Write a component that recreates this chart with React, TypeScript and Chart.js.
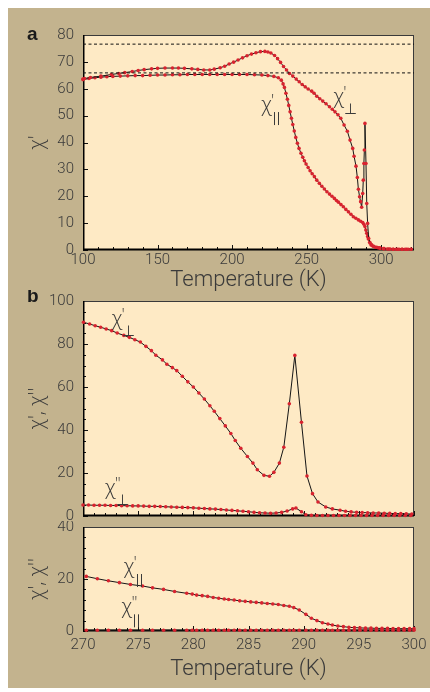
import React, { useEffect, useRef } from 'react';
import { Chart, registerables } from 'chart.js';

Chart.register(...registerables);

const FONT = "Roboto, 'DejaVu Sans', sans-serif";
const CHI_FONT = "'Open Sans', 'DejaVu Sans', sans-serif";
const TEXT = '#3a3a3a';
const LINE = '#151515';
const DOT = '#d8232f';
const CREAM = '#feeac5';
const TAN = '#c3b38e';

// ---------- Panel a : chi' versus temperature (100-322 K) ----------
const aXMin = 100;
const aXMax = 322;
const aXTicks = [100, 150, 200, 250, 300];
const aYTicks = [0, 10, 20, 30, 40, 50, 60, 70, 80];
const aRefLevels = [76.6, 65.9];

const aPerpT = [100, 101, 105, 112, 119, 124, 128, 133, 137, 141,
  146, 150, 155, 160, 164, 168, 173, 177, 181, 185,
  188, 192, 195, 198, 201, 204, 207, 210, 213, 216,
  219, 222, 224, 226, 228.5, 230.5, 232.5, 234.5, 236.5, 238.5,
  240.7, 243, 245, 247, 249, 251, 253.4, 255, 256.8, 258.8,
  260.8, 263, 265.3, 267.2, 269, 271, 272.9, 275.1, 277.3, 279.1,
  280.9, 281.8, 283.1, 284, 284.7, 285.5, 286.2, 286.9, 287.6, 288,
  288.4, 288.7, 289.1, 289.8, 290.3, 290.9, 291.6, 292.5, 293.6, 295,
  297, 299, 301.5, 304, 306, 308, 310, 312, 314, 316,
  318, 320];
const aPerpV = [63.6, 63.8, 64.2, 64.7, 65.3, 65.7, 66.0, 66.4, 66.8, 67.1,
  67.4, 67.6, 67.7, 67.7, 67.7, 67.6, 67.4, 67.2, 67.0, 67.0,
  67.3, 67.8, 68.4, 69.2, 69.9, 70.7, 71.5, 72.3, 72.9, 73.4,
  73.8, 73.9, 73.7, 73.3, 72.4, 71.2, 69.8, 68.3, 67.0, 65.7,
  64.7, 63.6, 62.6, 61.6, 60.7, 59.9, 59.1, 58.3, 57.2, 56.3,
  55.4, 54.4, 53.3, 52.4, 51.4, 50.3, 49.0, 46.5, 44.2, 40.9,
  37.8, 34.9, 31.2, 27.0, 22.6, 19.8, 18.0, 15.9, 21.0, 26.0,
  32.2, 37.2, 47.1, 32.2, 17.3, 9.9, 4.3, 2.6, 1.9, 1.4,
  1.0, 0.8, 0.5, 0.4, 0.4, 0.3, 0.3, 0.3, 0.3, 0.3,
  0.3, 0.3];

const aParT = [100, 104, 108, 112, 116, 120, 125, 130, 135, 140,
  145, 150, 155, 160, 165, 170, 175, 180, 185, 190,
  195, 200, 205, 210, 215, 220, 224, 228, 231, 233,
  234.2, 235.1, 236.1, 237.1, 238, 238.9, 239.8, 240.7, 241.7, 242.7,
  243.8, 244.9, 246.2, 247.4, 248.5, 249.6, 251, 252.3, 253.7, 255.2,
  256.8, 258.5, 260.2, 261.9, 263.6, 265.3, 267, 268.6, 270, 271.3,
  273, 274.6, 276.3, 278, 279.7, 281.3, 283, 284.7, 286.2, 287.6,
  288.4, 289.1, 289.7, 290.3, 290.9, 291.4, 292.3, 293.2, 294.5, 296,
  298, 299.4, 302, 305, 308, 311, 314, 317, 320];
const aParV = [63.4, 63.8, 64.1, 64.3, 64.5, 64.6, 64.7, 64.8, 64.9, 64.9,
  65.0, 65.1, 65.1, 65.2, 65.2, 65.3, 65.3, 65.3, 65.3, 65.3,
  65.3, 65.3, 65.3, 65.3, 65.2, 65.1, 64.9, 64.6, 64.1, 63.2,
  61.8, 60.5, 58.3, 56.1, 53.8, 51.4, 49.0, 46.7, 44.3, 41.9,
  39.7, 37.8, 36.0, 34.5, 33.2, 32.0, 30.7, 29.5, 28.4, 27.3,
  26.0, 24.8, 23.7, 22.7, 21.7, 20.8, 20.0, 19.2, 18.4, 17.8,
  16.9, 16.1, 15.1, 14.2, 13.3, 12.4, 11.8, 11.2, 10.7, 10.2,
  9.6, 8.7, 7.4, 6.2, 5.0, 4.1, 2.9, 1.9, 1.4, 1.0,
  0.8, 0.6, 0.5, 0.4, 0.3, 0.3, 0.3, 0.3, 0.3];

// ---------- Panel b : 270-300 K ----------
const bXMin = 270;
const bXMax = 300;
const bXTicks = [270, 275, 280, 285, 290, 295, 300];
const bTopYTicks = [0, 20, 40, 60, 80, 100];
const bBotYTicks = [0, 20, 40];

const bPerpT = [270.05, 270.6, 271.1, 271.6, 272.1, 272.6, 273.1, 273.7, 274.2, 274.7,
  275.2, 275.7, 276.2, 276.6, 277.2, 277.6, 278.1, 278.5, 279.0, 279.5,
  280.0, 280.5, 281.0, 281.5, 281.9, 282.4, 282.9, 283.4, 283.8, 284.3,
  284.9, 285.4, 285.8, 286.4, 286.9, 287.3, 287.8, 288.2, 288.7, 289.2,
  289.8, 290.3, 290.8, 291.3, 292.0, 292.6, 293.3, 293.8, 294.3, 294.8,
  295.3, 295.8, 296.3, 296.8, 297.3, 297.8, 298.3, 298.8, 299.3, 299.8];
const bPerpV = [90.1, 89.3, 88.5, 87.8, 87.0, 86.2, 85.1, 84.0, 83.1, 82.0,
  80.9, 78.9, 76.9, 74.8, 72.6, 70.6, 69.0, 67.6, 65.0, 62.4,
  60.0, 57.2, 54.4, 51.3, 48.7, 45.3, 41.9, 38.4, 35.1, 31.5,
  27.7, 24.6, 21.5, 18.9, 18.5, 20.3, 24.6, 32.0, 52.2, 74.7,
  43.6, 18.6, 10.4, 6.5, 4.2, 3.3, 2.7, 2.2, 1.9, 1.7,
  1.6, 1.5, 1.4, 1.4, 1.3, 1.2, 1.1, 1.1, 1.0, 0.9];

const bPerp2T = [270, 270.5, 271, 271.5, 272, 272.5, 273, 273.5, 274, 274.5,
  275, 275.5, 276, 276.5, 277, 277.5, 278, 278.5, 279, 279.5,
  280, 280.5, 281, 281.5, 282, 282.5, 283, 283.5, 284, 284.5,
  285, 285.5, 286, 286.5, 287, 287.5, 288, 288.5, 289, 289.3,
  289.8, 290.2, 290.7, 291.2, 291.7, 292.2, 292.7, 293.2, 293.7, 294.2,
  294.7, 295.2, 295.7, 296.2, 296.7, 297.2, 297.7, 298.2, 298.7, 299.2,
  299.7];
const bPerp2V = [5.1, 5.1, 5.0, 5.0, 5.0, 4.9, 4.9, 4.8, 4.8, 4.7,
  4.7, 4.6, 4.5, 4.5, 4.4, 4.3, 4.2, 4.1, 4.0, 3.9,
  3.8, 3.6, 3.5, 3.3, 3.2, 3.0, 2.8, 2.6, 2.4, 2.2,
  2.0, 1.7, 1.5, 1.4, 1.3, 1.4, 1.7, 2.3, 3.3, 3.7,
  2.0, 0.6, 0.3, 0.2, 0.2, 0.2, 0.2, 0.2, 0.2, 0.2,
  0.2, 0.2, 0.2, 0.2, 0.2, 0.2, 0.2, 0.2, 0.2, 0.2,
  0.2];

const bParT = [270.3, 271.3, 272.3, 273.3, 274.3, 275.4, 276.3, 277.3, 278.3, 279.4,
  279.9, 280.3, 280.8, 281.3, 281.8, 282.3, 282.8, 283.2, 283.7, 284.2,
  284.7, 285.2, 285.7, 286.2, 286.7, 287.2, 287.7, 288.2, 288.7, 289.1,
  289.6, 290.2, 290.7, 291.2, 291.7, 292.2, 292.6, 293.1, 293.6, 294.1,
  294.6, 295.1, 295.6, 296.1, 296.6, 297.1, 297.6, 298.1, 298.6, 299.1,
  299.6, 300];
const bParV = [21.0, 20.1, 19.3, 18.6, 17.9, 17.3, 16.6, 16.0, 15.2, 14.5,
  14.2, 13.8, 13.6, 13.3, 12.9, 12.6, 12.3, 12.1, 11.9, 11.6,
  11.4, 11.2, 11.0, 10.8, 10.6, 10.4, 10.2, 9.8, 9.5, 9.0,
  8.1, 6.4, 4.9, 4.0, 3.2, 2.7, 2.3, 1.9, 1.7, 1.4,
  1.3, 1.2, 1.1, 1.1, 1.0, 1.0, 1.0, 0.9, 0.9, 0.9,
  0.9, 0.9];
const bPar2V = [0.3, 0.3, 0.3, 0.3, 0.3, 0.3, 0.3, 0.3, 0.3, 0.3,
  0.3, 0.3, 0.3, 0.3, 0.3, 0.3, 0.3, 0.3, 0.3, 0.3,
  0.3, 0.3, 0.3, 0.3, 0.3, 0.3, 0.3, 0.3, 0.3, 0.3,
  0.3, 0.3, 0.3, 0.3, 0.3, 0.3, 0.3, 0.3, 0.3, 0.3,
  0.3, 0.3, 0.3, 0.3, 0.3, 0.3, 0.3, 0.3, 0.3, 0.3,
  0.3, 0.3];

// curve annotations (anchored in data units)
const aLabels = [
  { x: 268, y: 54.7, prime: "'", sub: '⊥' },
  { x: 219.5, y: 51.7, prime: "'", sub: '||' },
];
const bTopLabels = [
  { x: 272.6, y: 88.7, prime: "'", sub: '⊥' },
  { x: 272.0, y: 10.1, prime: '"', sub: '⊥' },
];
const bBotLabels = [
  { x: 273.7, y: 22.3, prime: "'", sub: '||' },
  { x: 273.5, y: 6.8, prime: '"', sub: '||' },
];

function pts(t: number[], v: number[]) {
  return t.map((x, i) => ({ x, y: v[i] }));
}

function series(t: number[], v: number[]) {
  return {
    data: pts(t, v),
    borderColor: LINE,
    borderWidth: 1,
    pointRadius: 1.8,
    pointBackgroundColor: DOT,
    pointBorderWidth: 0,
    pointHoverRadius: 0,
    tension: 0,
    fill: false,
    clip: false,
  };
}

function refLine(level: number, x0: number, x1: number) {
  return {
    data: [{ x: x0, y: level }, { x: x1, y: level }],
    borderColor: '#111',
    borderWidth: 1,
    borderDash: [3, 2.5],
    pointRadius: 0,
    fill: false,
  };
}

const decor = {
  id: 'decor',
  beforeDraw(chart: any) {
    const { ctx, chartArea: a } = chart;
    ctx.save();
    ctx.fillStyle = CREAM;
    ctx.fillRect(a.left, a.top, a.right - a.left, a.bottom - a.top);
    ctx.restore();
  },
  beforeDatasetsDraw(chart: any, _a: any, o: any) {
    const { ctx, chartArea: a, scales } = chart;
    const xs = scales.x, ys = scales.y;
    ctx.save();
    ctx.strokeStyle = '#111';
    ctx.lineWidth = 1;
    const nx = Math.round((xs.max - xs.min) / o.xMinor);
    for (let i = 0; i <= nx; i++) {
      const v = xs.min + i * o.xMinor;
      const r = v / o.xMajor;
      const major = Math.abs(r - Math.round(r)) < 1e-6;
      const px = Math.round(xs.getPixelForValue(v)) + 0.5;
      ctx.beginPath();
      ctx.moveTo(px, a.bottom);
      ctx.lineTo(px, a.bottom - (major ? 5 : 3));
      ctx.stroke();
    }
    const ny = Math.round((ys.max - ys.min) / o.yMinor);
    for (let i = 0; i <= ny; i++) {
      const v = ys.min + i * o.yMinor;
      const r = v / o.yMajor;
      const major = Math.abs(r - Math.round(r)) < 1e-6;
      const py = Math.round(ys.getPixelForValue(v)) + 0.5;
      ctx.beginPath();
      ctx.moveTo(a.left, py);
      ctx.lineTo(a.left + (major ? 5 : 3), py);
      ctx.stroke();
    }
    ctx.strokeStyle = '#3a3a3a';
    ctx.lineWidth = 1;
    ctx.strokeRect(a.left + 0.5, a.top + 0.5, a.right - a.left - 1, a.bottom - a.top - 1);
    ctx.strokeStyle = '#000';
    ctx.lineWidth = 2;
    ctx.beginPath();
    ctx.moveTo(a.left, a.bottom - 0.5);
    ctx.lineTo(a.right, a.bottom - 0.5);
    ctx.stroke();
    ctx.lineWidth = 1.5;
    ctx.beginPath();
    ctx.moveTo(a.left + 0.75, a.top);
    ctx.lineTo(a.left + 0.75, a.bottom);
    ctx.stroke();
    ctx.restore();
  },
  afterDatasetsDraw(chart: any, _a: any, o: any) {
    const { ctx, scales } = chart;
    const xs = scales.x, ys = scales.y;
    ctx.save();
    ctx.fillStyle = TEXT;
    ctx.textBaseline = 'alphabetic';
    ctx.textAlign = 'left';
    for (const l of o.labels || []) {
      const x = xs.getPixelForValue(l.x);
      const y = ys.getPixelForValue(l.y);
      ctx.font = `300 21px ${CHI_FONT}`;
      ctx.fillText('χ', x, y);
      const w = ctx.measureText('χ').width;
      ctx.font = `300 17px ${CHI_FONT}`;
      ctx.fillText(l.prime, x + w - 1, y - 5);
      if (l.sub === '||') {
        ctx.strokeStyle = TEXT;
        ctx.lineWidth = 1;
        const sx = Math.round(x + w + 2) + 0.5;
        ctx.beginPath();
        ctx.moveTo(sx, y + 1);
        ctx.lineTo(sx, y + 14);
        ctx.moveTo(sx + 4, y + 1);
        ctx.lineTo(sx + 4, y + 14);
        ctx.stroke();
      } else {
        ctx.font = `300 15px 'DejaVu Sans', sans-serif`;
        ctx.fillText(l.sub, x + w, y + 11);
      }
    }
    if (o.letter) {
      ctx.fillStyle = '#1a1a1a';
      ctx.font = `bold 19px 'Liberation Sans', Arial, sans-serif`;
      ctx.fillText(o.letter.text, o.letter.x, o.letter.y);
    }
    ctx.restore();
  },
};

type PanelOpts = {
  datasets: any[];
  xMin: number; xMax: number; yMin: number; yMax: number;
  xTicks: number[]; yTicks: number[];
  showXLabels: boolean; xTitle?: string; yTitle: string;
  padTop: number; xHeight: number; xTickPad: number;
  xMinor: number; xMajor: number; yMinor: number; yMajor: number;
  labels: any[]; letter?: { text: string; x: number; y: number };
};

function makeConfig(p: PanelOpts): any {
  const tickFont = { family: FONT, size: 15, weight: '300' };
  return {
    type: 'line',
    data: { datasets: p.datasets },
    plugins: [decor],
    options: {
      responsive: false,
      animation: false,
      devicePixelRatio: 1,
      events: [],
      layout: { padding: { top: p.padTop, right: 16, bottom: 0, left: 0 } },
      plugins: {
        legend: { display: false },
        tooltip: { enabled: false },
        decor: {
          xMinor: p.xMinor, xMajor: p.xMajor, yMinor: p.yMinor, yMajor: p.yMajor,
          labels: p.labels, letter: p.letter,
        },
      },
      scales: {
        x: {
          type: 'linear',
          min: p.xMin,
          max: p.xMax,
          grid: { display: false, drawTicks: false },
          border: { display: false },
          ticks: {
            display: p.showXLabels,
            padding: p.xTickPad,
            font: tickFont,
            color: TEXT,
            maxRotation: 0,
            autoSkip: false,
          },
          afterBuildTicks: (s: any) => { s.ticks = p.xTicks.map((v) => ({ value: v })); },
          afterFit: (s: any) => { s.height = p.xHeight; s.paddingLeft = 0; s.paddingRight = 0; },
          title: {
            display: !!p.xTitle,
            text: p.xTitle || '',
            color: TEXT,
            font: { family: FONT, size: 22, weight: '300' },
            padding: { top: 0, bottom: 5 },
          },
        },
        y: {
          type: 'linear',
          min: p.yMin,
          max: p.yMax,
          grid: { display: false, drawTicks: false },
          border: { display: false },
          ticks: { padding: 9, font: tickFont, color: TEXT, autoSkip: false },
          afterBuildTicks: (s: any) => { s.ticks = p.yTicks.map((v) => ({ value: v })); },
          afterFit: (s: any) => { s.width = 75; s.paddingTop = 0; s.paddingBottom = 0; },
          title: {
            display: true,
            text: p.yTitle,
            color: TEXT,
            font: { family: CHI_FONT, size: 20, weight: '300' },
            padding: { top: 17, bottom: 0 },
          },
        },
      },
    },
  };
}

function Panel({ top, height, opts }: { top: number; height: number; opts: PanelOpts }) {
  const ref = useRef<HTMLCanvasElement | null>(null);
  useEffect(() => {
    const chart = new Chart(ref.current as HTMLCanvasElement, makeConfig(opts));
    return () => chart.destroy();
  }, []);
  return (
    <canvas
      ref={ref}
      width={422}
      height={height}
      style={{ position: 'absolute', left: 0, top, width: 422, height, display: 'block' }}
    />
  );
}

export default function App() {
  const panelA: PanelOpts = {
    datasets: [
      ...aRefLevels.map((l) => refLine(l, aXMin, aXMax)),
      series(aPerpT, aPerpV),
      series(aParT, aParV),
    ],
    xMin: aXMin, xMax: aXMax, yMin: 0, yMax: 80,
    xTicks: aXTicks, yTicks: aYTicks,
    showXLabels: true, xTitle: 'Temperature (K)', yTitle: "χ'",
    padTop: 27, xHeight: 49, xTickPad: 1,
    xMinor: 10, xMajor: 50, yMinor: 10, yMajor: 10,
    labels: aLabels, letter: { text: 'a', x: 19, y: 32 },
  };
  const panelBTop: PanelOpts = {
    datasets: [series(bPerpT, bPerpV), series(bPerp2T, bPerp2V)],
    xMin: bXMin, xMax: bXMax, yMin: 0, yMax: 100,
    xTicks: bXTicks, yTicks: bTopYTicks,
    showXLabels: false, yTitle: "χ', χ''",
    padTop: 11, xHeight: 5, xTickPad: 0,
    xMinor: 1, xMajor: 5, yMinor: 5, yMajor: 20,
    labels: bTopLabels, letter: { text: 'b', x: 19, y: 12 },
  };
  const panelBBot: PanelOpts = {
    datasets: [series(bParT, bParV), series(bParT, bPar2V)],
    xMin: bXMin, xMax: bXMax, yMin: 0, yMax: 40,
    xTicks: bXTicks, yTicks: bBotYTicks,
    showXLabels: true, xTitle: 'Temperature (K)', yTitle: "χ', χ''",
    padTop: 6, xHeight: 57, xTickPad: 5,
    xMinor: 1, xMajor: 5, yMinor: 4, yMajor: 20,
    labels: bBotLabels,
  };
  return (
    <div style={{ position: 'fixed', left: 8, top: 8, width: 422, height: 680, background: TAN, overflow: 'hidden' }}>
      <Panel top={0} height={291} opts={panelA} />
      <Panel top={282} height={231} opts={panelBTop} />
      <Panel top={513} height={167} opts={panelBBot} />
    </div>
  );
}
